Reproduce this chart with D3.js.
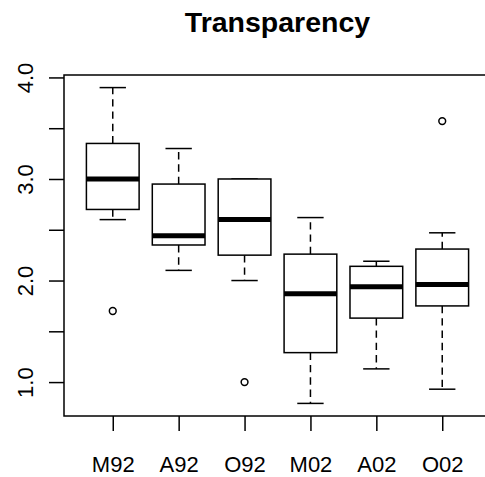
<!DOCTYPE html>
<html>
<head>
<meta charset="utf-8">
<script src="https://cdn.jsdelivr.net/npm/d3@7"></script>
<style>
html,body{margin:0;padding:0;background:#fff;overflow:hidden;}
svg{display:block;}
text{font-family:"Liberation Sans",Arial,Helvetica,sans-serif;fill:#000;}
</style>
</head>
<body>
<svg id="chart" width="485" height="477"></svg>
<script>
const title = "Transparency";
const categories = ["M92","A92","O92","M02","A02","O02"];
const whiskerLow  = [2.6, 2.1, 2.0, 0.79, 1.13, 0.93];
const q1          = [2.7, 2.35, 2.25, 1.29, 1.63, 1.75];
const median      = [3.0, 2.44, 2.6, 1.87, 1.94, 1.96];
const q3          = [3.35, 2.95, 3.0, 2.26, 2.14, 2.31];
const whiskerHigh = [3.9, 3.3, 3.0, 2.62, 2.19, 2.47];
const outliers    = [[1.7], [], [1.0], [], [], [3.57]];
const yTicks      = [1.0, 1.5, 2.0, 2.5, 3.0, 3.5, 4.0];
const yTickLabels = ["1.0", "", "2.0", "", "3.0", "", "4.0"];

const svg = d3.select("#chart");
const x = d3.scaleLinear().domain([0.26, 6.74]).range([64, 491]);
const y = d3.scaleLinear().domain([0.666, 4.024]).range([416, 75]);

const lw = 1.5;
const boxHalf = 0.4, capHalf = 0.2;

const data = categories.map((c, i) => ({
  c, i: i + 1, lo: whiskerLow[i], q1: q1[i], med: median[i], q3: q3[i], hi: whiskerHigh[i], out: outliers[i]
}));

const g = svg.append("g");

// whiskers (dashed), drawn from box edge outward
g.selectAll(".wu").data(data).join("line")
  .attr("x1", d => x(d.i)).attr("x2", d => x(d.i))
  .attr("y1", d => y(d.q3)).attr("y2", d => y(d.hi))
  .attr("stroke", "#000").attr("stroke-width", lw).attr("stroke-dasharray", "7.4,4.9");
g.selectAll(".wl").data(data).join("line")
  .attr("x1", d => x(d.i)).attr("x2", d => x(d.i))
  .attr("y1", d => y(d.q1)).attr("y2", d => y(d.lo))
  .attr("stroke", "#000").attr("stroke-width", lw).attr("stroke-dasharray", "7.4,4.9");

// staples
g.selectAll(".cu").data(data).join("line")
  .attr("x1", d => x(d.i - capHalf)).attr("x2", d => x(d.i + capHalf))
  .attr("y1", d => y(d.hi)).attr("y2", d => y(d.hi))
  .attr("stroke", "#000").attr("stroke-width", lw);
g.selectAll(".cl").data(data).join("line")
  .attr("x1", d => x(d.i - capHalf)).attr("x2", d => x(d.i + capHalf))
  .attr("y1", d => y(d.lo)).attr("y2", d => y(d.lo))
  .attr("stroke", "#000").attr("stroke-width", lw);

// boxes
g.selectAll(".box").data(data).join("rect")
  .attr("x", d => x(d.i - boxHalf))
  .attr("width", d => x(d.i + boxHalf) - x(d.i - boxHalf))
  .attr("y", d => y(d.q3))
  .attr("height", d => y(d.q1) - y(d.q3))
  .attr("fill", "#fff").attr("stroke", "#000").attr("stroke-width", lw);

// medians
g.selectAll(".med").data(data).join("line")
  .attr("x1", d => x(d.i - boxHalf)).attr("x2", d => x(d.i + boxHalf))
  .attr("y1", d => y(d.med)).attr("y2", d => y(d.med))
  .attr("stroke", "#000").attr("stroke-width", 5);

// outliers
const outPts = data.flatMap(d => d.out.map(v => ({ i: d.i, v })));
g.selectAll(".out").data(outPts).join("circle")
  .attr("cx", d => x(d.i)).attr("cy", d => y(d.v)).attr("r", 3.4)
  .attr("fill", "none").attr("stroke", "#000").attr("stroke-width", lw);

// plot frame
svg.append("rect")
  .attr("x", x.range()[0]).attr("y", y.range()[1])
  .attr("width", x.range()[1] - x.range()[0])
  .attr("height", y.range()[0] - y.range()[1])
  .attr("fill", "none").attr("stroke", "#000").attr("stroke-width", lw);

// y axis
const yAxis = d3.axisLeft(y).tickValues(yTicks).tickSize(15).tickPadding(16)
  .tickFormat((d, i) => yTickLabels[i]);
const ya = svg.append("g").attr("transform", `translate(${x.range()[0]},0)`).call(yAxis);
ya.select(".domain").remove();
ya.selectAll(".tick line").attr("stroke", "#000").attr("stroke-width", lw);
ya.selectAll(".tick text")
  .attr("x", null).attr("dy", null)
  .attr("transform", "translate(-31,0) rotate(-90)")
  .attr("text-anchor", "middle")
  .attr("font-size", 22).attr("fill", "#000");

// x axis
const xAxis = d3.axisBottom(x).tickValues(data.map(d => d.i)).tickSize(15)
  .tickFormat(d => categories[d - 1]);
const xa = svg.append("g").attr("transform", `translate(0,${y.range()[0]})`).call(xAxis);
xa.select(".domain").remove();
xa.selectAll(".tick line").attr("stroke", "#000").attr("stroke-width", lw);
xa.selectAll(".tick text")
  .attr("y", 56).attr("dy", null)
  .attr("font-size", 22).attr("fill", "#000");

// title
svg.append("text")
  .attr("x", (x.range()[0] + x.range()[1]) / 2).attr("y", 31.5)
  .attr("text-anchor", "middle").attr("font-weight", "bold").attr("font-size", 28.5)
  .text(title);
</script>
</body>
</html>
